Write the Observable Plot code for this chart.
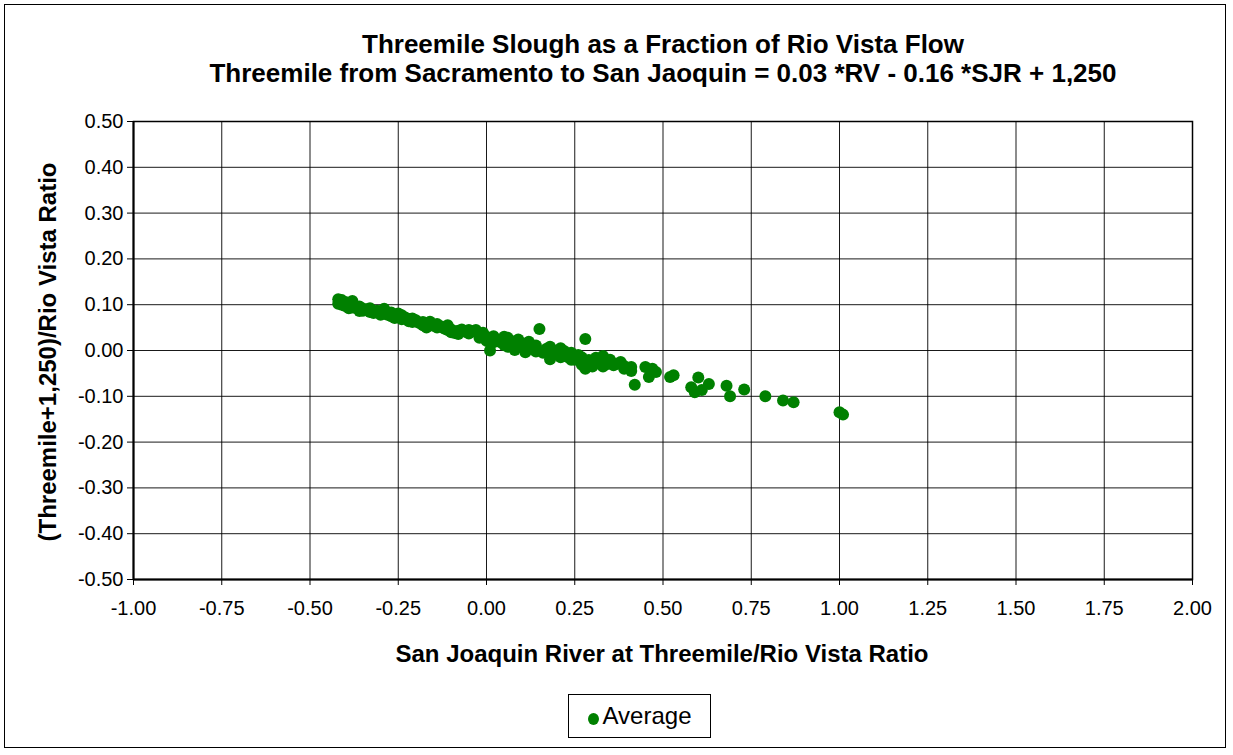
<!DOCTYPE html>
<html>
<head>
<meta charset="utf-8">
<script src="https://cdn.jsdelivr.net/npm/d3@7"></script>
<script src="https://cdn.jsdelivr.net/npm/@observablehq/plot@0.6"></script>
<style>
  html, body { margin: 0; padding: 0; background: #fff; }
  body { width: 1233px; height: 755px; position: relative; overflow: hidden; font-family: "Liberation Sans", Arial, sans-serif; }
  #border { position: absolute; left: 4px; top: 4px; width: 1222px; height: 744px; border: 1px solid #000; box-sizing: border-box; }
  #chart { position: absolute; left: 0; top: 0; }
  .title { position: absolute; left: 0; width: 1326px; text-align: center; font-weight: bold; font-size: 26px; color: #000; white-space: nowrap; }
  #xlabel { position: absolute; left: 132px; width: 1060px; top: 640px; text-align: center; font-weight: bold; font-size: 24px; }
  #ylabel { position: absolute; left: 48px; top: 352px; transform: translate(-50%, -50%) rotate(-90deg); font-weight: bold; font-size: 24px; white-space: nowrap; }
  #legend { position: absolute; left: 568px; top: 694px; width: 143px; height: 44px; border: 1px solid #000; box-sizing: border-box; font-size: 24px; display: flex; align-items: center; justify-content: center; }
  #legend .dot { display: inline-block; width: 11px; height: 12px; border-radius: 50%; background: #008000; margin-right: 4px; margin-top: 6px; }
</style>
</head>
<body>
<div id="border"></div>
<div id="chart"></div>
<div class="title" style="top:29px">Threemile Slough as a Fraction of Rio Vista Flow</div>
<div class="title" style="top:58px">Threemile from Sacramento to San Jaoquin = 0.03 *RV - 0.16 *SJR + 1,250</div>
<div id="xlabel">San Joaquin River at Threemile/Rio Vista Ratio</div>
<div id="ylabel">(Threemile+1,250)/Rio Vista Ratio</div>
<div id="legend"><span class="dot"></span><span>Average</span></div>
<script>
// San Joaquin River at Threemile / Rio Vista ratio
const sjrRatio = [
  -0.42, -0.42, -0.41, -0.40, -0.40, -0.39, -0.38, -0.38, -0.37, -0.36,
  -0.35, -0.35, -0.34, -0.33, -0.32, -0.31, -0.30, -0.29, -0.29, -0.28,
  -0.27, -0.26, -0.25, -0.25, -0.24, -0.23, -0.22, -0.22, -0.21, -0.20,
  -0.19, -0.18, -0.18, -0.17, -0.16, -0.15, -0.14, -0.13, -0.12, -0.11,
  -0.10, -0.10, -0.09, -0.08, -0.07, -0.06, -0.05, -0.04, -0.03, -0.02,
  -0.01, 0.00, 0.00, 0.01, 0.02, 0.03, 0.04, 0.05, 0.06, 0.06,
  0.07, 0.08, 0.09, 0.10, 0.11, 0.12, 0.13, 0.14, 0.15, 0.16,
  0.17, 0.18, 0.19, 0.20, 0.21, 0.22, 0.23, 0.24, 0.25, 0.26,
  0.27, 0.28, 0.28, 0.29, 0.30, 0.31, 0.32, 0.33, 0.34, 0.35,
  0.37, 0.38, 0.39, 0.39, 0.41, 0.41, 0.42, 0.45, 0.46, 0.47,
  0.48, 0.52, 0.53, 0.58, 0.59, 0.60, 0.61, 0.63, 0.68, 0.69,
  0.73, 0.79, 0.84, 0.87, 1.00, 1.01,
  -0.41, -0.39, -0.36, -0.33, -0.30, -0.27, -0.24, -0.21, -0.17, -0.14,
  -0.11, -0.08, -0.05, -0.02, 0.02, 0.05, 0.08, 0.11, 0.14, 0.18,
  0.21, 0.24, 0.27, 0.30, 0.33, 0.36
];
// (Threemile + 1,250) / Rio Vista ratio
const threemileRatio = [
  0.112, 0.102, 0.100, 0.106, 0.097, 0.101, 0.108, 0.094, 0.093, 0.096,
  0.091, 0.087, 0.090, 0.084, 0.082, 0.087, 0.083, 0.091, 0.080, 0.078,
  0.075, 0.071, 0.081, 0.074, 0.077, 0.072, 0.069, 0.064, 0.070, 0.066,
  0.060, 0.055, 0.062, 0.057, 0.063, 0.054, 0.050, 0.053, 0.048, 0.055,
  0.046, 0.040, 0.038, 0.043, 0.046, 0.041, 0.037, 0.042, 0.045, 0.034,
  0.039, 0.030, 0.021, 0.000, 0.031, 0.024, 0.018, 0.030, 0.008, 0.028,
  0.020, 0.001, 0.024, 0.010, -0.004, 0.019, 0.004, 0.011, 0.047, -0.005,
  0.004, -0.019, 0.000, -0.009, 0.005, -0.001, -0.014, -0.005, -0.020, -0.010,
  -0.031, 0.025, -0.040, -0.021, -0.035, -0.016, -0.026, -0.012, -0.030, -0.020,
  -0.029, -0.025, -0.040, -0.034, -0.045, -0.036, -0.075, -0.036, -0.058, -0.040,
  -0.047, -0.058, -0.054, -0.080, -0.091, -0.059, -0.086, -0.073, -0.077, -0.100,
  -0.085, -0.100, -0.109, -0.113, -0.135, -0.140,
  0.110, 0.092, 0.086, 0.092, 0.078, 0.083, 0.068, 0.062, 0.050, 0.058,
  0.045, 0.036, 0.045, 0.028, 0.018, 0.012, 0.018, 0.015, -0.002, 0.008,
  -0.015, -0.020, -0.015, -0.025, -0.035, -0.032
];
const xTicks = [-1.00, -0.75, -0.50, -0.25, 0.00, 0.25, 0.50, 0.75, 1.00, 1.25, 1.50, 1.75, 2.00];
const yTicks = [-0.50, -0.40, -0.30, -0.20, -0.10, 0.00, 0.10, 0.20, 0.30, 0.40, 0.50];
const seriesName = "Average";

const fmt = d => (Math.abs(d) < 1e-9 ? 0 : d).toFixed(2);
const data = sjrRatio.map((x, i) => ({x, y: threemileRatio[i], series: seriesName}));

const chart = Plot.plot({
  width: 1233,
  height: 755,
  marginLeft: 133,
  marginRight: 41,
  marginTop: 121,
  marginBottom: 176,
  style: {fontFamily: "'Liberation Sans', Arial, sans-serif", fontSize: "20px", color: "#000", background: "transparent"},
  x: {domain: [-1, 2]},
  y: {domain: [-0.5, 0.5]},
  marks: [
    Plot.gridX(xTicks, {stroke: "#000", strokeOpacity: 0.9, strokeWidth: 1}),
    Plot.gridY(yTicks, {stroke: "#000", strokeOpacity: 0.9, strokeWidth: 1}),
    Plot.frame({stroke: "#000", strokeWidth: 1.5}),
    Plot.axisX(xTicks, {tickFormat: fmt, tickSize: 6, tickPadding: 15, label: null, stroke: "#000"}),
    Plot.axisY(yTicks, {tickFormat: fmt, tickSize: 6, tickPadding: 4, label: null, stroke: "#000"}),
    Plot.ruleX([-1], {stroke: "#000", strokeWidth: 2}),
    Plot.ruleY([-0.5], {stroke: "#000", strokeWidth: 2}),
    Plot.dot(data, {x: "x", y: "y", r: 6, fill: "#008000", stroke: "none"})
  ]
});
document.getElementById("chart").appendChild(chart);
</script>
</body>
</html>
